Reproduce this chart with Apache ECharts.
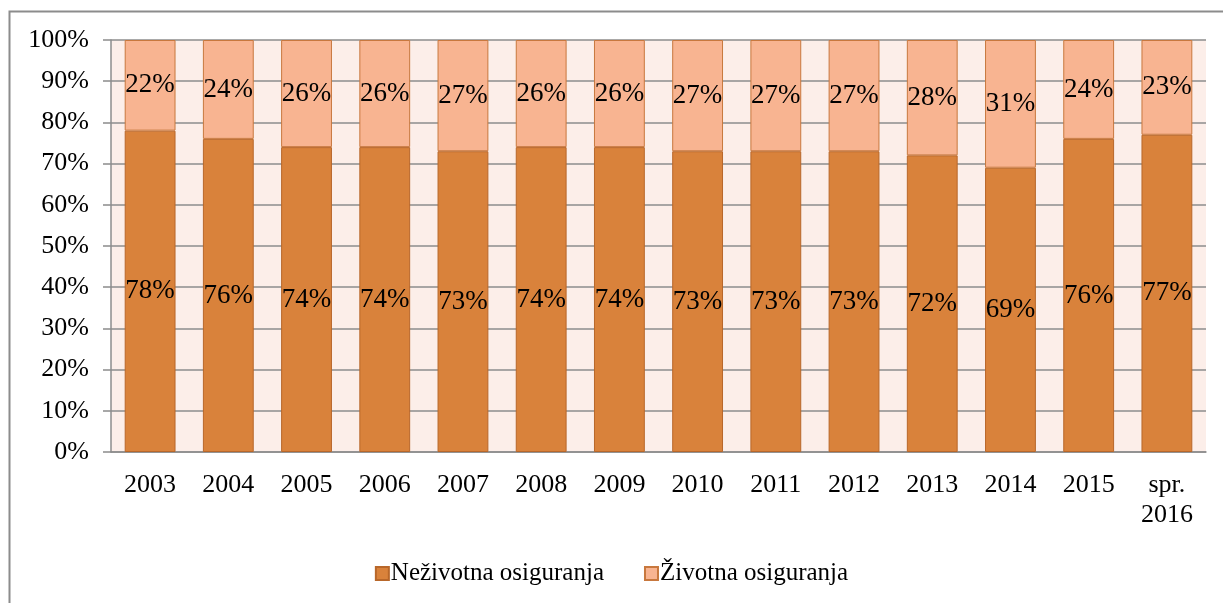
<!DOCTYPE html>
<html>
<head>
<meta charset="utf-8">
<script src="https://cdn.jsdelivr.net/npm/echarts@6/dist/echarts.min.js"></script>
<style>
html,body{margin:0;padding:0;background:#fff;}
#chart{width:1223px;height:603px;}
</style>
</head>
<body>
<div id="chart"></div>
<script>
const categories = ['2003','2004','2005','2006','2007','2008','2009','2010','2011','2012','2013','2014','2015','spr.\n2016'];
const nonLife = [78,76,74,74,73,74,74,73,73,73,72,69,76,77];
const life = [22,24,26,26,27,26,26,27,27,27,28,31,24,23];
const yTicks = [0,10,20,30,40,50,60,70,80,90,100];
const seriesNames = ['Neživotna osiguranja','Životna osiguranja'];

const FONT = 'Liberation Serif';
const chart = echarts.init(document.getElementById('chart'), null, {renderer:'canvas'});
function makeLabel(){
  return {show:true, position:'inside', formatter: p => p.value + '%', color:'#000', fontFamily:FONT, fontSize:27};
}
chart.setOption({
  animation:false,
  textStyle:{fontFamily:FONT},
  graphic:[{type:'rect', shape:{x:9.5,y:11.5,width:1400,height:800}, style:{fill:'none', stroke:'#8c8c8c', lineWidth:2}, silent:true}],
  grid:{left:111, right:17, top:40, bottom:151, show:true, backgroundColor:'#FCEEE9', borderWidth:0},
  legend:{bottom:12, left:'center', itemWidth:13, itemHeight:13, itemGap:40,
    textStyle:{fontFamily:FONT, fontSize:25, color:'#000', padding:[0,0,0,-3]}, data:seriesNames, icon:'rect'},
  xAxis:{type:'category', data:categories,
    axisLine:{lineStyle:{color:'#8c8c8c', width:1.5}},
    axisTick:{length:8, lineStyle:{color:'#8c8c8c', width:1.5}},
    axisLabel:{color:'#000', fontFamily:FONT, fontSize:26, margin:18, lineHeight:30, interval:0}},
  yAxis:{type:'value', min:0, max:100, interval:10,
    axisLine:{show:true, lineStyle:{color:'#8c8c8c', width:1.5}},
    axisTick:{show:true, length:8, lineStyle:{color:'#8c8c8c', width:1.5}},
    splitLine:{lineStyle:{color:'#8c8c8c', width:1.5}},
    axisLabel:{color:'#000', fontFamily:FONT, fontSize:26, margin:22, formatter: v => v + '%'}},
  series:[
    {name:seriesNames[0], type:'bar', stack:'a', data:nonLife, barCategoryGap:'35%',
      itemStyle:{color:'#D9823B', borderColor:'#B8672A', borderWidth:1}, label:makeLabel()},
    {name:seriesNames[1], type:'bar', stack:'a', data:life,
      itemStyle:{color:'#F8B491', borderColor:'#C8783E', borderWidth:1}, label:makeLabel()}
  ]
});
</script>
</body>
</html>
